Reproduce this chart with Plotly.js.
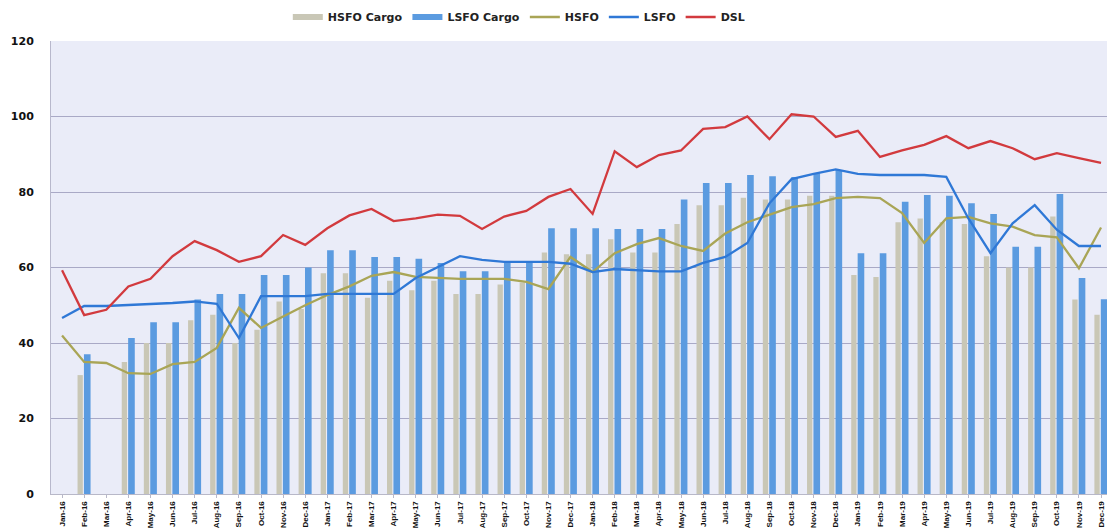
<!DOCTYPE html>
<html>
<head>
<meta charset="utf-8">
<script src="https://cdn.plot.ly/plotly-3.0.1.min.js"></script>
<style>html,body{margin:0;padding:0;background:#fff;}#chart{width:1107px;height:529px;}</style>
</head>
<body>
<div id="chart"></div>
<script>
var months = ["Jan-16","Feb-16","Mar-16","Apr-16","May-16","Jun-16","Jul-16","Aug-16","Sep-16","Oct-16","Nov-16","Dec-16",
              "Jan-17","Feb-17","Mar-17","Apr-17","May-17","Jun-17","Jul-17","Aug-17","Sep-17","Oct-17","Nov-17","Dec-17",
              "Jan-18","Feb-18","Mar-18","Apr-18","May-18","Jun-18","Jul-18","Aug-18","Sep-18","Oct-18","Nov-18","Dec-18",
              "Jan-19","Feb-19","Mar-19","Apr-19","May-19","Jun-19","Jul-19","Aug-19","Sep-19","Oct-19","Nov-19","Dec-19"];

var hsfoCargo = [null,31.5,null,35,40,40,46,47.5,40,43.5,51,49,
                 58.5,58.5,52,56.5,54,56.5,53,53,55.5,56,64,63.5,
                 63.5,67.5,64,64,71.5,76.5,76.5,78.5,78,78,79,79,
                 58,57.5,72,73,72,71.5,63,60,60,73.5,51.5,47.5];

var lsfoCargo = [null,37,null,41.3,45.5,45.5,51.5,53,53,58,58,60,
                 64.6,64.6,62.8,62.8,62.3,61.2,59,59,61.5,61.5,70.4,70.4,
                 70.4,70.2,70.2,70.2,78,82.4,82.4,84.5,84.2,84,85,85.8,
                 63.8,63.8,77.4,79.2,79,77,74.2,65.5,65.5,79.5,57.2,51.6];

var hsfo = [42,35,34.7,32,31.8,34.4,35,38.7,49.3,44,47,50,
            52.7,55,57.8,58.8,57.5,57.2,57,57,57,56.2,54.3,62.8,
            58.8,63.8,66.2,67.8,65.7,64.4,69,72,73.9,76,76.8,78.4,
            78.7,78.4,74.4,66.5,73,73.4,71.7,70.8,68.6,68,59.8,70.6];

var lsfo = [46.6,49.8,49.8,50,50.3,50.6,51,50.4,41.3,52.4,52.4,52.4,
            53,53,53,53,57.2,60,63,62,61.5,61.5,61.5,61,
            58.8,59.6,59.3,59,59,61.2,62.8,66.5,77,83.4,84.8,86,
            84.8,84.5,84.5,84.5,84,73,63.8,71.7,76.5,70,65.7,65.7];

var dsl = [59.3,47.4,48.8,55,57,63,67,64.6,61.5,63,68.6,66,
           70.4,73.8,75.5,72.3,73,74,73.7,70.2,73.5,75,78.7,80.8,
           74.2,90.8,86.6,89.8,91,96.7,97.2,100,94,100.6,100,94.6,
           96.2,89.3,91,92.5,94.8,91.6,93.5,91.6,88.7,90.3,89,87.7];

var yTicks = [0,20,40,60,80,100,120];

var cGray = "#c9c7b6", cBlueBar = "#5b9be0", cOlive = "#a9a556", cBlue = "#2f78d6", cRed = "#d23a3e";

var traces = [
  {type:"bar", name:"HSFO Cargo", x:months, y:hsfoCargo, width:0.24, offset:-0.3,
   marker:{color:cGray}, showlegend:false, legendgroup:"hc"},
  {type:"bar", name:"LSFO Cargo", x:months, y:lsfoCargo, width:0.3, offset:-0.01,
   marker:{color:cBlueBar}, showlegend:false, legendgroup:"lc"},
  /* legend-only entries drawn as wide swatches, like the reference */
  {type:"scatter", mode:"lines", name:"HSFO Cargo", x:[months[0]], y:[null], legendgroup:"hc",
   line:{color:cGray, width:6}, hoverinfo:"skip"},
  {type:"scatter", mode:"lines", name:"LSFO Cargo", x:[months[0]], y:[null], legendgroup:"lc",
   line:{color:cBlueBar, width:6}, hoverinfo:"skip"},
  {type:"scatter", mode:"lines", name:"HSFO", x:months, y:hsfo,
   line:{color:cOlive, width:2.3}},
  {type:"scatter", mode:"lines", name:"LSFO", x:months, y:lsfo,
   line:{color:cBlue, width:2.3}},
  {type:"scatter", mode:"lines", name:"DSL", x:months, y:dsl,
   line:{color:cRed, width:2.3}}
];

var layout = {
  width:1107, height:529,
  margin:{l:51, r:0, t:41, b:35, pad:0},
  paper_bgcolor:"#ffffff",
  plot_bgcolor:"#eaecf8",
  font:{family:"DejaVu Sans, sans-serif", color:"#111"},
  barmode:"overlay",
  showlegend:true,
  legend:{orientation:"h", x:0.443, xanchor:"center", y:1.053, yanchor:"middle",
          font:{size:11, family:"DejaVu Sans", weight:"bold", color:"#222"},
          itemwidth:30, bgcolor:"rgba(0,0,0,0)", traceorder:"normal"},
  xaxis:{type:"category", range:[-0.5,47.27], tickangle:-90,
         tickfont:{size:8, family:"Liberation Sans", weight:"bold", color:"#111"},
         showgrid:false, showline:true, linecolor:"#b8b8c8", linewidth:1,
         ticks:"outside", ticklen:3, tickcolor:"#b8b8c8", automargin:false},
  yaxis:{range:[0,120], tickvals:yTicks, ticktext:yTicks.map(String),
         tickfont:{size:11, family:"DejaVu Sans", weight:"bold", color:"#111"},
         showgrid:true, gridcolor:"#a9a9c6", gridwidth:1, zeroline:false,
         showline:true, linecolor:"#b8b8cc", linewidth:1, ticks:"", ticklabelstandoff:14,
         automargin:false}
};

Plotly.newPlot("chart", traces, layout, {displayModeBar:false, staticPlot:true});
</script>
</body>
</html>
